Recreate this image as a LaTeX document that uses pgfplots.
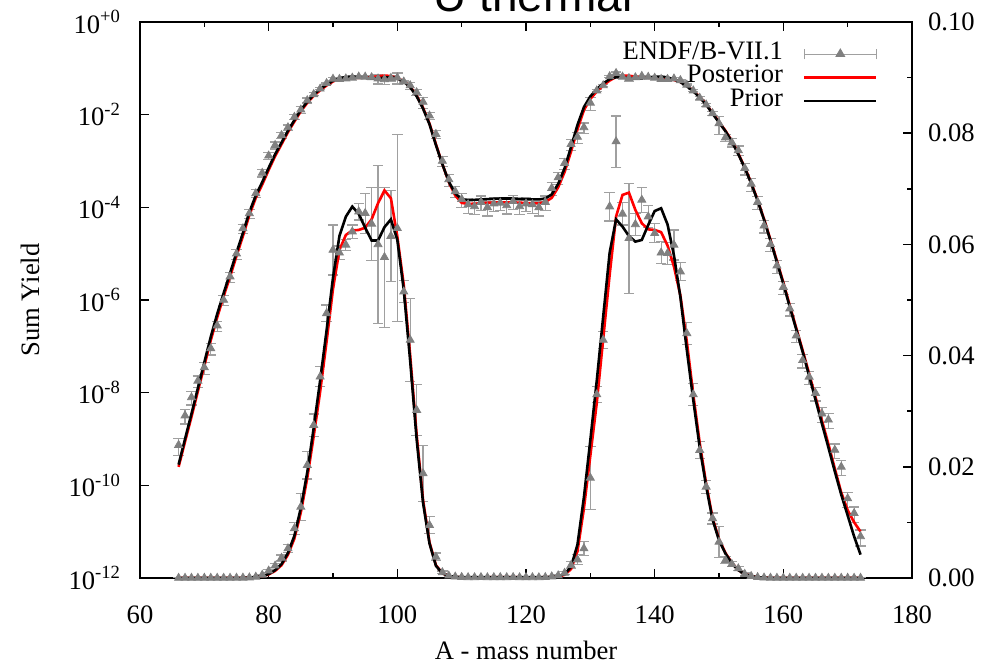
\documentclass[border=0pt]{standalone}
\usepackage{fontspec}
\setmainfont{Liberation Serif}
\newfontfamily\titlefont{Liberation Sans}
\usepackage{pgfplots}
\pgfplotsset{compat=1.18}
\usepackage{pgfplotstable}
\definecolor{mgray}{RGB}{128,128,128}
\definecolor{egray}{RGB}{160,160,160}
\newcommand{\tfont}{\fontsize{13.3pt}{15pt}\selectfont}

\pgfplotstableread{
A prior post
66 2.8e-10 2.5e-10
67 1.0e-9 8.8e-10
68 3.5e-9 3.0e-9
69 1.26e-8 1.08e-8
70 4.5e-8 3.8e-8
71 1.6e-7 1.35e-7
72 5.0e-7 4.2e-7
73 1.4e-6 1.2e-6
74 3.8e-6 3.2e-6
75 1.05e-5 8.9e-6
76 2.8e-5 2.4e-5
77 7.9e-5 6.8e-5
78 1.8e-4 1.6e-4
79 3.5e-4 3.1e-4
80 7.1e-4 6.4e-4
81 1.4e-3 1.27e-3
82 2.5e-3 2.3e-3
83 4.5e-3 4.2e-3
84 7.6e-3 7.1e-3
85 0.0126 0.0118
86 0.0190 0.0180
87 0.0270 0.0255
88 0.0355 0.0335
89 0.0445 0.0425
90 0.0540 0.0520
91 0.0615 0.0590
92 0.0650 0.0617
93 0.0668 0.0625
94 0.0655 0.0626
95 0.0630 0.0630
96 0.0607 0.0645
97 0.0607 0.0674
98 0.0631 0.0697
99 0.0645 0.0683
100 0.0608 0.0614
101 0.0518 0.0527
102 0.0390 0.0400
103 0.0250 0.0258
104 0.0135 0.0140
105 0.0062 0.0064
106 0.0022 0.0023
107 8.5e-4 8.6e-4
108 3.6e-4 3.5e-4
109 2.0e-4 1.8e-4
110 1.5e-4 1.25e-4
111 1.42e-4 1.18e-4
112 1.45e-4 1.2e-4
113 1.48e-4 1.22e-4
114 1.5e-4 1.25e-4
115 1.53e-4 1.27e-4
116 1.55e-4 1.28e-4
117 1.55e-4 1.28e-4
118 1.55e-4 1.28e-4
119 1.52e-4 1.26e-4
120 1.5e-4 1.24e-4
121 1.48e-4 1.22e-4
122 1.48e-4 1.22e-4
123 1.55e-4 1.3e-4
124 1.9e-4 1.6e-4
125 3.2e-4 2.7e-4
126 7.0e-4 5.8e-4
127 2.0e-3 1.6e-3
128 6.0e-3 4.8e-3
129 0.0145 0.0125
130 0.0248 0.0220
131 0.0355 0.0315
132 0.0470 0.0430
133 0.0585 0.0545
134 0.0645 0.0650
135 0.0632 0.0689
136 0.0615 0.0693
137 0.0605 0.0662
138 0.0608 0.0638
139 0.0635 0.0627
140 0.0660 0.0626
141 0.0665 0.0622
142 0.0636 0.0598
143 0.0580 0.0560
144 0.0505 0.0508
145 0.0410 0.0425
146 0.0320 0.0330
147 0.0235 0.0243
148 0.0165 0.0170
149 0.0105 0.0108
150 0.0068 0.0070
151 0.0044 0.0045
152 0.0026 0.0027
153 1.4e-3 1.45e-3
154 7.1e-4 7.3e-4
155 3.3e-4 3.4e-4
156 1.4e-4 1.45e-4
157 5.4e-5 5.6e-5
158 1.9e-5 2.0e-5
159 6.6e-6 7.0e-6
160 2.24e-6 2.4e-6
161 7.1e-7 7.6e-7
162 2.34e-7 2.5e-7
163 7.6e-8 8.2e-8
164 2.34e-8 2.6e-8
165 7.1e-9 8.0e-9
166 2.14e-9 2.5e-9
167 6.6e-10 7.8e-10
168 2.0e-10 2.3e-10
169 6.3e-11 7.0e-11
170 2.24e-11 2.9e-11
171 7.9e-12 1.6e-11
172 3.2e-12 1.0e-11
}\curves

\pgfplotstableread{
A val err
66 7.4e-10 3.0e-10
67 3.2e-9 1.1e-9
68 7.9e-9 2.5e-9
69 1.8e-8 5e-9
70 3.5e-8 1e-8
71 9.0e-8 2.5e-8
72 2.8e-7 7e-8
73 1.0e-6 2.5e-7
74 3.2e-6 8e-7
75 1.0e-5 2.5e-6
76 3.5e-5 8e-6
77 7.4e-5 1.6e-5
78 2.0e-4 4e-5
79 5.5e-4 1.0e-4
80 1.3e-3 2.4e-4
81 2.2e-3 3.8e-4
82 3.6e-3 5.5e-4
83 5.3e-3 7e-4
84 8.9e-3 1.1e-3
85 0.0128 0.0024
86 0.0203 0.0025
87 0.0275 0.0020
88 0.0362 0.0018
89 0.0476 0.0015
90 0.0590 0.0045
91 0.0585 0.0012
92 0.0599 0.0010
93 0.0623 0.0012
94 0.0659 0.0015
95 0.0656 0.0036
96 0.0637 0.0066
97 0.0600 0.0142
98 0.0577 0.0126
99 0.0615 0.0082
100 0.0629 0.0168
101 0.0515 0.0020
102 0.0428 0.0075
103 0.0302 0.0046
104 0.0188 0.0050
105 0.0095 0.0015
106 0.0038 0.0007
107 1.0e-3 2.5e-4
108 4.0e-4 1.2e-4
109 2.2e-4 6e-5
110 1.5e-4 5e-5
111 1.15e-4 4e-5
112 1.05e-4 3.5e-5
113 1.3e-4 4.5e-5
114 1.0e-4 3.5e-5
115 1.2e-4 4e-5
116 1.25e-4 4e-5
117 1.1e-4 3.8e-5
118 1.35e-4 4.5e-5
119 1.05e-4 3.5e-5
120 1.2e-4 4e-5
121 1.15e-4 4e-5
122 1.0e-4 3.5e-5
123 1.3e-4 4.5e-5
124 2.6e-4 8e-5
125 4.4e-4 1.3e-4
126 9.0e-4 2.5e-4
127 2.3e-3 6e-4
128 3.3e-3 9e-4
129 5.3e-3 1.3e-3
130 0.0180 0.0057
131 0.0330 0.0015
132 0.0428 0.0015
133 0.0668 0.0026
134 0.0785 0.0046
135 0.0655 0.0020
136 0.0611 0.0099
137 0.0636 0.0020
138 0.0680 0.0023
139 0.0650 0.0020
140 0.0620 0.0017
141 0.0585 0.0020
142 0.0584 0.0020
143 0.0599 0.0027
144 0.0551 0.0016
145 0.0440 0.0020
146 0.0330 0.0020
147 0.0230 0.0015
148 0.0164 0.0012
149 0.0107 0.0010
150 0.0065 0.0028
151 0.0032 0.0006
152 0.0025 0.0005
153 0.0017 0.0004
154 7.0e-4 2e-4
155 3.2e-4 1e-4
156 1.3e-4 4e-5
157 4.0e-5 1.2e-5
158 1.6e-5 5e-6
159 5.5e-6 1.7e-6
160 1.9e-6 6e-7
161 6.5e-7 2e-7
162 1.7e-7 5e-8
163 5.0e-8 1.6e-8
164 2.2e-8 7e-9
165 9.8e-9 3.2e-9
166 3.5e-9 1.2e-9
167 2.6e-9 9e-10
168 5.8e-10 2e-10
169 2.5e-10 9e-11
170 5.2e-11 1.9e-11
171 2.5e-11 9e-12
172 7.9e-12 3e-12
}\endf

\pgfplotsset{
  common/.style={
    scale only axis, width=386pt, height=278pt,
    at={(0pt,0pt)}, anchor=south west,
    xmin=60, xmax=180,
    tick align=inside,
    major tick length=4.5pt, minor tick length=2.5pt,
    every tick/.style={black, line width=0.8pt},
    axis line style={black, line width=0.9pt},
    tick label style={font=\tfont},
  },
  endfstyle/.style={only marks, mark=triangle*, mark size=2.3pt,
    mark options={mgray, fill=mgray},
    error bars/y dir=both, error bars/y explicit,
    error bars/error bar style={egray, line width=0.6pt},
    error bars/error mark options={egray, line width=0.6pt, mark size=2.6pt, rotate=90}},
}

\begin{document}
\begin{tikzpicture}
\begin{axis}[common,
  ymode=log, ymin=1e-12, ymax=1,
  ytick={1e-12,1e-10,1e-8,1e-6,1e-4,1e-2,1},
  yticklabels={10\textsuperscript{-12},10\textsuperscript{-10},10\textsuperscript{-8},10\textsuperscript{-6},10\textsuperscript{-4},10\textsuperscript{-2},10\textsuperscript{+0}},
  yticklabel style={xshift=-6pt},
  xticklabel style={yshift=-10.5pt},
  yminorticks=false,
  ytick pos=left, xtick pos=both,
  xtick={60,80,...,180}, xticklabels={60,80,100,120,140,160,180},
  minor x tick num=1,
  xlabel={A - mass number}, ylabel={Sum Yield},
  every axis x label/.style={at={(rel axis cs:0.5,0)}, yshift=-36pt, anchor=center, font=\tfont},
  every axis y label/.style={at={(rel axis cs:0,0.5)}, xshift=-55pt, rotate=90, anchor=center, font=\tfont},
  legend plot pos=right,
  legend cell align=right,
  legend image code/.code={\draw[#1] (0pt,0pt) -- (36pt,0pt);},
  legend style={draw=none, fill=none, inner sep=0pt, row sep=0pt,
    at={(rel axis cs:0.956,0.964)}, anchor=north east, font=\tfont,
    nodes={inner sep=0pt, text height=8.5pt, text depth=3.25pt},
    /tikz/every odd column/.append style={column sep=10pt}},
]
\addplot[
  legend image code/.code={
    \draw[egray, line width=0.6pt] (0pt,0pt) -- (36pt,0pt) (0pt,-2.6pt) -- (0pt,2.6pt) (36pt,-2.6pt) -- (36pt,2.6pt);
    \fill[mgray] (15.8pt,-1.2pt) -- (20.2pt,-1.2pt) -- (18pt,2.6pt) -- cycle;},
  endfstyle] table[x=A, y=val, y error=err] {\endf};
\addlegendentry{ENDF/B-VII.1}
\addplot[red, line width=1.3pt] table[x=A, y=post] {\curves};
\addlegendentry{Posterior}
\addplot[black, line width=1.3pt] table[x=A, y=prior] {\curves};
\addlegendentry{Prior}
\end{axis}
\begin{axis}[common,
  ymin=0, ymax=0.1,
  axis x line=none, axis y line*=right,
  ytick={0,0.02,0.04,0.06,0.08,0.1},
  yticklabels={0.00,0.02,0.04,0.06,0.08,0.10},
  yticklabel style={xshift=4.5pt},
  minor y tick num=1,
]
\addplot[endfstyle] table[x=A, y=val, y error=err] {\endf};
\addplot[red, line width=1.3pt] table[x=A, y=post] {\curves};
\addplot[black, line width=1.3pt] table[x=A, y=prior] {\curves};
\end{axis}
\node[anchor=base, font=\titlefont\fontsize{23pt}{26pt}\selectfont] at (196.5pt,283pt) {U thermal};
\pgfresetboundingbox
\path[use as bounding box] (-70pt,-45pt) rectangle (424.5pt,289pt);
\end{tikzpicture}
\end{document}
